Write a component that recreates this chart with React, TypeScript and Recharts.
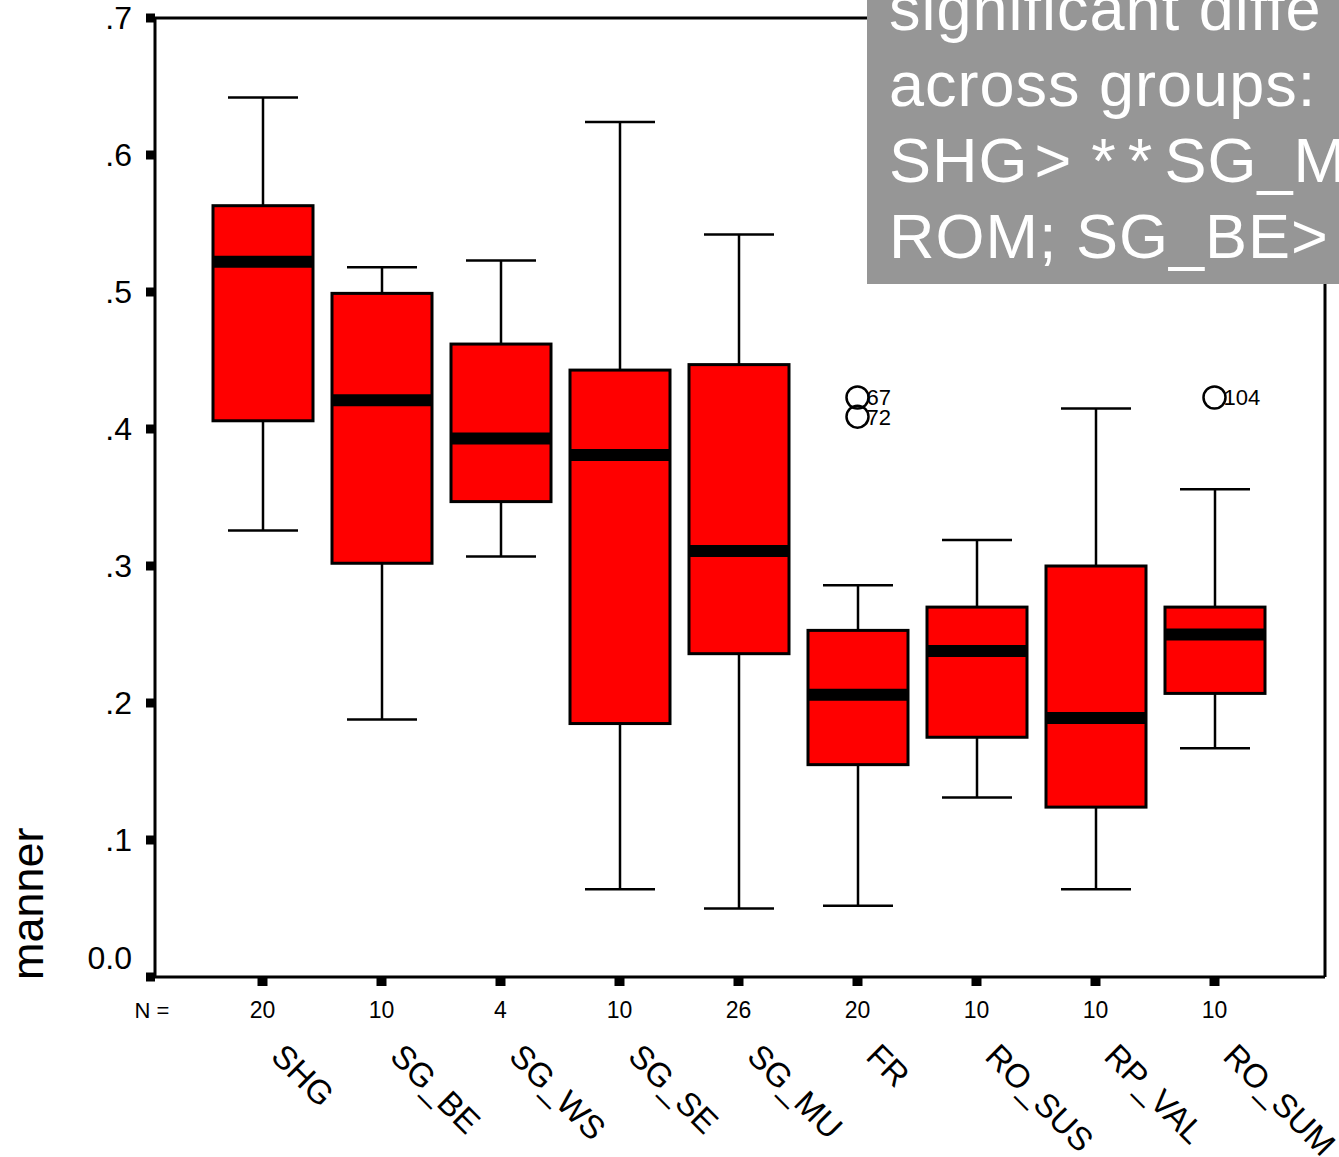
import { ComposedChart, Bar, Scatter, XAxis, YAxis, ReferenceLine } from 'recharts';

const groups = ['SHG', 'SG_BE', 'SG_WS', 'SG_SE', 'SG_MU', 'FR', 'RO_SUS', 'RP_VAL', 'RO_SUM'];
const counts = [20, 10, 4, 10, 26, 20, 10, 10, 10];
const whiskerLow = [0.326, 0.188, 0.307, 0.064, 0.05, 0.052, 0.131, 0.064, 0.167];
const quart1 = [0.406, 0.302, 0.347, 0.185, 0.236, 0.155, 0.175, 0.124, 0.207];
const medians = [0.522, 0.421, 0.393, 0.381, 0.311, 0.206, 0.238, 0.189, 0.25];
const quart3 = [0.563, 0.499, 0.462, 0.443, 0.447, 0.253, 0.27, 0.3, 0.27];
const whiskerHigh = [0.642, 0.518, 0.523, 0.624, 0.542, 0.286, 0.319, 0.415, 0.356];
const outlierA = [null, null, null, null, null, 0.423, null, null, 0.423];
const outlierALabels = ['', '', '', '', '', '67', '', '', '104'];
const outlierB = [null, null, null, null, null, 0.409, null, null, null];
const outlierBLabels = ['', '', '', '', '', '72', '', '', ''];
const yTicks = [0, 0.1, 0.2, 0.3, 0.4, 0.5, 0.6, 0.7];

const noteLines = ['significant diffe', 'across groups:'];

const data = groups.map((name, i) => ({
  name,
  n: counts[i],
  lo: whiskerLow[i],
  q1: quart1[i],
  med: medians[i],
  q3: quart3[i],
  hi: whiskerHigh[i],
  box: [quart1[i], quart3[i]],
  outA: outlierA[i],
  labA: outlierALabels[i],
  outB: outlierB[i],
  labB: outlierBLabels[i],
}));

const font = 'Liberation Sans, Arial, sans-serif';

const BoxShape = (props: any) => {
  const { x, y, width, height, payload } = props;
  const top = height < 0 ? y + height : y;
  const h = Math.abs(height);
  const k = h / (payload.q3 - payload.q1);
  const py = (v: number) => top + (payload.q3 - v) * k;
  const cx = x + width / 2;
  const cap = 35;
  return (
    <g>
      <line x1={cx} x2={cx} y1={py(payload.hi)} y2={top} stroke="#000" strokeWidth={2.5} />
      <line x1={cx} x2={cx} y1={top + h} y2={py(payload.lo)} stroke="#000" strokeWidth={2.5} />
      <line x1={cx - cap} x2={cx + cap} y1={py(payload.hi)} y2={py(payload.hi)} stroke="#000" strokeWidth={2.5} />
      <line x1={cx - cap} x2={cx + cap} y1={py(payload.lo)} y2={py(payload.lo)} stroke="#000" strokeWidth={2.5} />
      <rect x={x} y={top} width={width} height={h} fill="#ff0000" stroke="#000" strokeWidth={3} />
      <line x1={x} x2={x + width} y1={py(payload.med)} y2={py(payload.med)} stroke="#000" strokeWidth={12} />
    </g>
  );
};

const outlierShape = (valKey: string, labKey: string) => (props: any) => {
  const { cx, cy, payload } = props;
  if (payload[valKey] == null) return <g />;
  return (
    <g>
      <circle cx={cx} cy={cy} r={11} fill="none" stroke="#000" strokeWidth={2.5} />
      <text x={cx + 9} y={cy + 8} fontSize={22} fontFamily={font} fill="#000">
        {payload[labKey]}
      </text>
    </g>
  );
};

const GroupTick = (props: any) => {
  const { x, y, payload } = props;
  const i = groups.indexOf(payload.value);
  return (
    <g fontFamily={font} fill="#000">
      {i === 0 && (
        <text x={152} y={y + 32} textAnchor="middle" fontSize={22}>
          N =
        </text>
      )}
      <text x={x} y={y + 32} textAnchor="middle" fontSize={23}>
        {counts[i]}
      </text>
      <text transform={`translate(${x + 7},${y + 72}) rotate(45)`} fontSize={33}>
        {payload.value}
      </text>
    </g>
  );
};

const ValueTick = (props: any) => {
  const { x, y, payload } = props;
  const v = payload.value as number;
  const label = v === 0 ? '0.0' : v.toFixed(1).slice(1);
  return (
    <text x={x} y={y + (v === 0 ? -19 : 0)} dy={11} textAnchor="end" fontSize={32} fontFamily={font} fill="#000">
      {label}
    </text>
  );
};

const MannerLabel = () => (
  <text transform="translate(43,980) rotate(-90)" fontSize={45} fontFamily={font} fill="#000">
    manner
  </text>
);

export default function App() {
  return (
    <div style={{ position: 'absolute', left: 0, top: 0, width: 1339, height: 1157, overflow: 'hidden', background: '#fff' }}>
      <ComposedChart width={1339} height={1157} data={data} margin={{ top: 18, right: 0, bottom: 0, left: 0 }}>
        <XAxis
          dataKey="name"
          type="category"
          padding={{ left: 48, right: 51 }}
          axisLine={{ stroke: '#000', strokeWidth: 3 }}
          tickLine={{ stroke: '#000', strokeWidth: 10 }}
          tickSize={9}
          tickMargin={0}
          tick={<GroupTick />}
          interval={0}
          height={180}
        />
        <YAxis
          yAxisId="left"
          width={155}
          domain={[0, 0.7]}
          ticks={yTicks}
          axisLine={{ stroke: '#000', strokeWidth: 3 }}
          tickLine={{ stroke: '#000', strokeWidth: 9 }}
          tickSize={9}
          tickMargin={14}
          tick={<ValueTick />}
          label={<MannerLabel />}
        />
        <YAxis
          yAxisId="right"
          orientation="right"
          width={14}
          domain={[0, 0.7]}
          tick={false}
          tickLine={false}
          axisLine={{ stroke: '#000', strokeWidth: 3 }}
        />
        <ReferenceLine yAxisId="left" y={0.7} stroke="#000" strokeWidth={3} />
        <Bar yAxisId="left" dataKey="box" barSize={100} shape={<BoxShape />} isAnimationActive={false} />
        <Scatter yAxisId="left" dataKey="outA" shape={outlierShape('outA', 'labA')} isAnimationActive={false} />
        <Scatter yAxisId="left" dataKey="outB" shape={outlierShape('outB', 'labB')} isAnimationActive={false} />
      </ComposedChart>
      <div
        style={{
          position: 'absolute',
          left: 867,
          top: 0,
          width: 472,
          height: 284,
          overflow: 'hidden',
          background: '#969696',
          color: '#fff',
          fontFamily: font,
          fontSize: 63,
          lineHeight: '76px',
          letterSpacing: 1,
          whiteSpace: 'nowrap',
        }}
      >
        <div style={{ marginTop: -30, paddingLeft: 22 }}>
          <div>{noteLines[0]}</div>
          <div>{noteLines[1]}</div>
          <div>
            SHG<span style={{ marginLeft: 6, letterSpacing: 20 }}>&gt;</span>
            <span style={{ letterSpacing: 12 }}>**</span>SG_M
          </div>
          <div>ROM; SG_BE&gt;</div>
        </div>
      </div>
    </div>
  );
}
